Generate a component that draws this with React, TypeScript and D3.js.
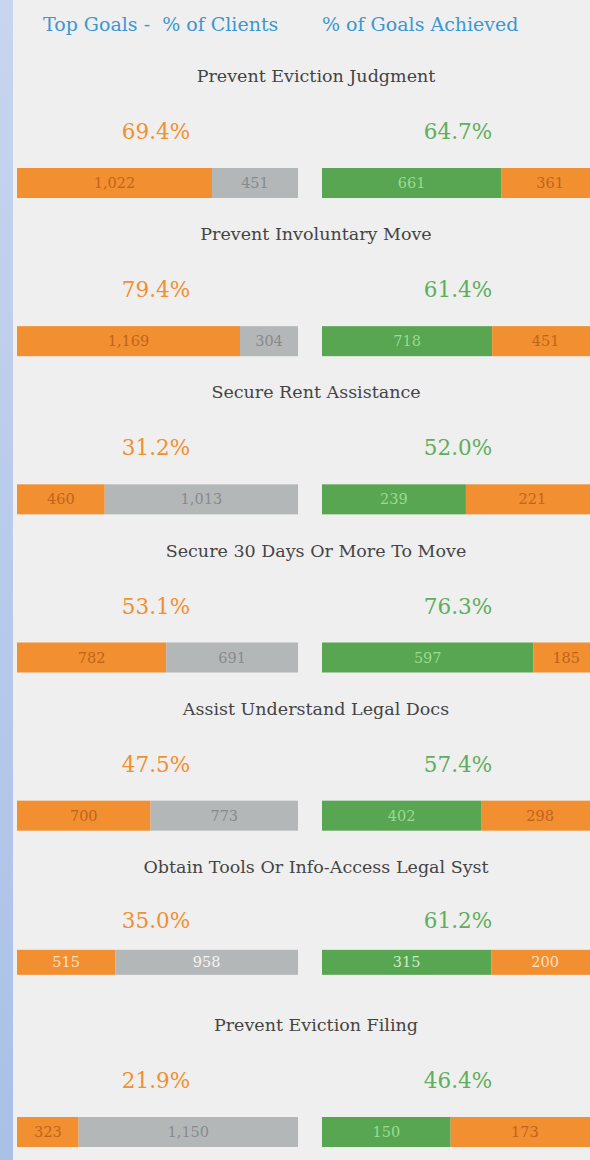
import React from "react";
import * as d3 from "d3";

const goals = [
  "Prevent Eviction Judgment",
  "Prevent Involuntary Move",
  "Secure Rent Assistance",
  "Secure 30 Days Or More To Move",
  "Assist Understand Legal Docs",
  "Obtain Tools Or Info-Access Legal Syst",
  "Prevent Eviction Filing",
];
const clientsWithGoal = [1022, 1169, 460, 782, 700, 515, 323];
const clientsWithout = [451, 304, 1013, 691, 773, 958, 1150];
const goalsAchieved = [661, 718, 239, 597, 402, 315, 150];
const goalsNotAchieved = [361, 451, 221, 185, 298, 200, 173];
const pctClients = ["69.4%", "79.4%", "31.2%", "53.1%", "47.5%", "35.0%", "21.9%"];
const pctAchieved = ["64.7%", "61.4%", "52.0%", "76.3%", "57.4%", "61.2%", "46.4%"];

const W = 590;
const H = 1160;
const FONT = "'DejaVu Serif', serif";
const ORANGE = "#f28f30";
const GRAY = "#b4b7b8";
const GREEN = "#58a552";

export default function App() {
  const fmt = d3.format(",");
  const rowY = d3.scaleLinear().domain([0, goals.length - 1]).range([76, 1025]);
  const barH = 30;

  return (
    <svg
      width={W}
      height={H}
      style={{ position: "absolute", left: 0, top: 0, display: "block", fontFamily: FONT }}
    >
      <defs>
        <linearGradient id="strip" x1="0" y1="0" x2="0" y2="1">
          <stop offset="0" stopColor="#c7d5ee" />
          <stop offset="1" stopColor="#a9c0e7" />
        </linearGradient>
      </defs>
      <rect x={0} y={0} width={W} height={H} fill="#efefef" />
      <rect x={0} y={0} width={13} height={H} fill="url(#strip)" />
      <text x={43} y={31} fontSize={19} fill="#3b97cf" style={{ whiteSpace: "pre" }}>{"Top Goals -  % of Clients"}</text>
      <text x={322} y={31} fontSize={19} fill="#3b97cf">% of Goals Achieved</text>
      {goals.map((g, i) => {
        const ty = rowY(i);
        const total = clientsWithGoal[i] + clientsWithout[i];
        const xl = d3.scaleLinear().domain([0, total]).range([17, 298]);
        const xr = d3.scaleLinear().domain([0, clientsWithGoal[i]]).range([322, 599]);
        const compact = i === 5;
        const by = ty + (compact ? 83 : 92);
        const py = ty + (compact ? 61 : 63);
        const bh = compact ? 25 : barH;
        const light = compact;
        const lblY = by + bh / 2 + 5;
        return (
          <g key={g}>
            <text x={316} y={ty + 6} fontSize={17.5} fill="#444" textAnchor="middle">{g}</text>
            <text x={156} y={py} fontSize={21.5} fill={ORANGE} textAnchor="middle">{pctClients[i]}</text>
            <text x={458} y={py} fontSize={21.5} fill="#5fae5c" textAnchor="middle">{pctAchieved[i]}</text>
            <rect x={xl(0)} y={by} width={xl(clientsWithGoal[i]) - xl(0)} height={bh} fill={ORANGE} />
            <rect x={xl(clientsWithGoal[i])} y={by} width={xl(total) - xl(clientsWithGoal[i])} height={bh} fill={GRAY} />
            <text x={(xl(0) + xl(clientsWithGoal[i])) / 2} y={lblY} fontSize={14.5} textAnchor="middle" fill={light ? "#fde3c8" : "#c0641c"}>{fmt(clientsWithGoal[i])}</text>
            <text x={(xl(clientsWithGoal[i]) + xl(total)) / 2} y={lblY} fontSize={14.5} textAnchor="middle" fill={light ? "#f4f4f4" : "#878a8c"}>{fmt(clientsWithout[i])}</text>
            <rect x={xr(0)} y={by} width={xr(goalsAchieved[i]) - xr(0)} height={bh} fill={GREEN} />
            <rect x={xr(goalsAchieved[i])} y={by} width={xr(clientsWithGoal[i]) - xr(goalsAchieved[i])} height={bh} fill={ORANGE} />
            <text x={(xr(0) + xr(goalsAchieved[i])) / 2} y={lblY} fontSize={14.5} textAnchor="middle" fill={light ? "#c8efc4" : "#98dc90"}>{fmt(goalsAchieved[i])}</text>
            <text x={(xr(goalsAchieved[i]) + xr(clientsWithGoal[i])) / 2} y={lblY} fontSize={14.5} textAnchor="middle" fill={light ? "#fde3c8" : "#c0641c"}>{fmt(goalsNotAchieved[i])}</text>
          </g>
        );
      })}
    </svg>
  );
}
